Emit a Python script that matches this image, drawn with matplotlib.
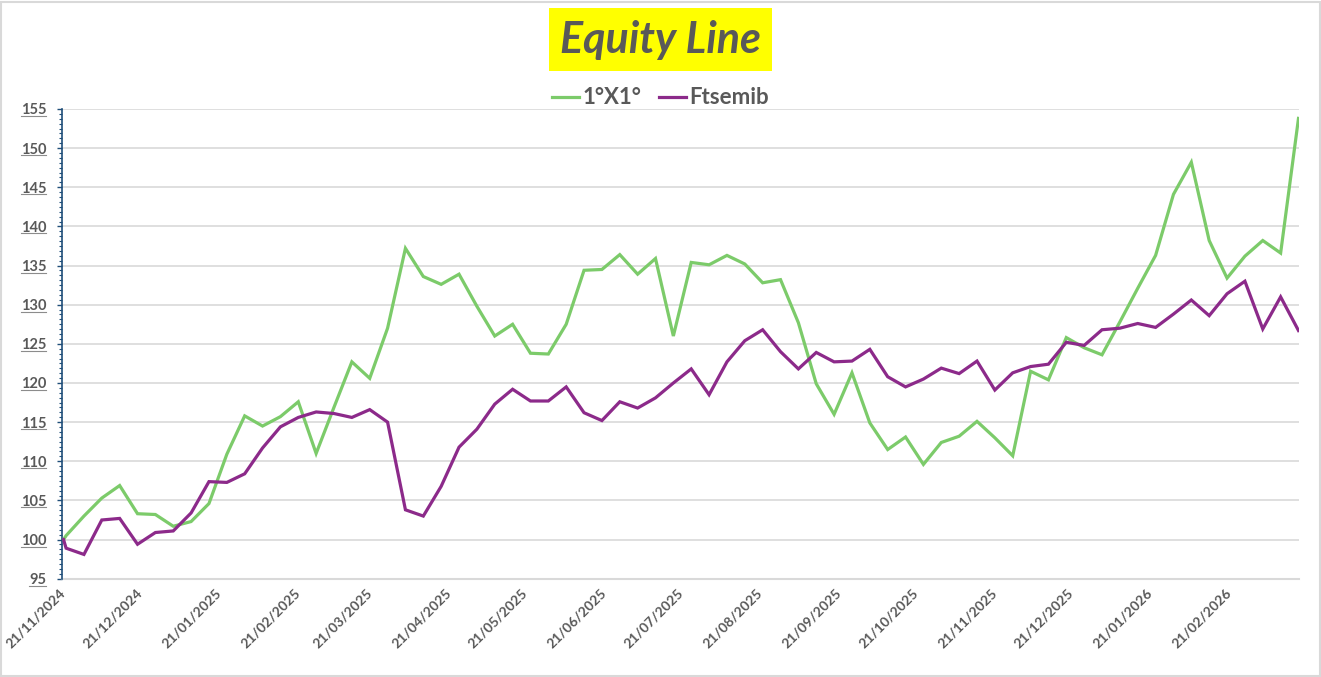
import matplotlib
matplotlib.use('Agg')
import matplotlib.pyplot as plt
import matplotlib.dates as mdates
from matplotlib.ticker import MultipleLocator, FixedLocator
from matplotlib.patches import Rectangle
from matplotlib.lines import Line2D
from matplotlib.transforms import IdentityTransform
import pandas as pd

# ---------------- data ----------------
start_date = "2024-11-21"          # equity line start (value 100)
first_friday = "2024-11-22"        # then weekly Friday closes
n_weeks = 70

series_names = ["1°X1°", "Ftsemib"]

equity_1x1 = [100.0,
    100.5, 103.0, 105.3, 106.9, 103.3, 103.2, 101.7, 102.3, 104.6, 110.9,
    115.8, 114.5, 115.7, 117.6, 111.0, 116.9, 122.7, 120.6, 127.0, 137.2,
    133.6, 132.6,
    133.9, 129.8, 126.0, 127.5, 123.8, 123.7, 127.5, 134.4, 134.5, 136.4,
    133.9, 135.9, 126.0, 135.4, 135.1, 136.3, 135.2, 132.8, 133.2, 127.7,
    119.9, 116.0, 121.3, 114.9, 111.5,
    113.1, 109.6, 112.4, 113.2, 115.1, 113.0, 110.7, 121.5, 120.4, 125.8,
    124.5, 123.6, 127.8, 132.1, 136.3, 144.1, 148.2, 138.2, 133.4, 136.2,
    138.2, 136.6, 153.8]

ftsemib = [100.0,
    98.9, 98.1, 102.5, 102.7, 99.4, 100.9, 101.1, 103.4, 107.4, 107.3,
    108.4, 111.7, 114.4, 115.6, 116.3, 116.1, 115.6, 116.6, 115.0, 103.8,
    103.0, 106.8,
    111.8, 114.1, 117.3, 119.2, 117.7, 117.7, 119.5, 116.2, 115.2, 117.6,
    116.8, 118.1, 120.0, 121.8, 118.5, 122.7, 125.4, 126.8, 124.0, 121.8,
    123.9, 122.7, 122.8, 124.3, 120.8,
    119.5, 120.5, 121.9, 121.2, 122.8, 119.1, 121.3, 122.1, 122.4, 125.2,
    124.8, 126.8, 127.0, 127.6, 127.1, 128.8, 130.6, 128.6, 131.4, 133.0,
    126.9, 131.0, 126.7]

x_tick_labels = ["21/11/2024", "21/12/2024", "21/01/2025", "21/02/2025",
                 "21/03/2025", "21/04/2025", "21/05/2025", "21/06/2025",
                 "21/07/2025", "21/08/2025", "21/09/2025", "21/10/2025",
                 "21/11/2025", "21/12/2025", "21/01/2026", "21/02/2026"]
y_ticks = [95, 100, 105, 110, 115, 120, 125, 130, 135, 140, 145, 150, 155]

dates = [pd.Timestamp(start_date)] + list(pd.date_range(first_friday, periods=n_weeks, freq="7D"))
xnum = mdates.date2num(dates)
tick_pos = mdates.date2num([pd.to_datetime(s, format="%d/%m/%Y") for s in x_tick_labels])

# ---------------- style ----------------
W, H = 1321, 677
GRAY = "#595959"
GREEN = "#7CCB6A"
PURPLE = "#8C2A8A"
AXBLUE = "#1F4E79"
plt.rcParams["font.family"] = ["Lato", "DejaVu Sans"]

fig = plt.figure(figsize=(W / 100, H / 100), dpi=100)
fig.patch.set_facecolor("white")

left, right, top, bottom = 62, 1299, 109, 578.7
ax = fig.add_axes([left / W, 1 - bottom / H, (right - left) / W, (bottom - top) / H])

ax.plot(xnum, equity_1x1, color=GREEN, lw=2.3, label=series_names[0], solid_joinstyle="miter", zorder=3)
ax.plot(xnum, ftsemib, color=PURPLE, lw=2.3, label=series_names[1], solid_joinstyle="miter", zorder=4)

ax.set_xlim(xnum[0] - 0.6, xnum[-1] + 0.2)
ax.set_ylim(95, 155)

ax.yaxis.set_major_locator(FixedLocator(y_ticks))
ax.yaxis.set_minor_locator(MultipleLocator(0.625))
ax.set_yticklabels([str(v) for v in y_ticks])
ax.xaxis.set_major_locator(FixedLocator(tick_pos))
ax.set_xticklabels(x_tick_labels)

ax.grid(axis="y", which="major", color="#D9D9D9", lw=1.2, zorder=0)
ax.set_axisbelow(True)
for s in ["top", "right", "bottom"]:
    ax.spines[s].set_visible(False)
ax.spines["left"].set_color(AXBLUE)
ax.spines["left"].set_linewidth(1.2)
ax.axhline(95, color="#D9D9D9", lw=1.5, zorder=1, clip_on=False)

ax.tick_params(axis="y", which="major", length=3.5, width=1, color=AXBLUE,
               labelcolor=GRAY, labelsize=10.5, pad=8)
ax.tick_params(axis="y", which="minor", length=2.5, width=0.8, color=AXBLUE)
ax.tick_params(axis="x", which="both", length=0, labelcolor=GRAY, labelsize=10, pad=9)
for lbl in ax.get_yticklabels():
    lbl.set_fontweight("bold")
for lbl in ax.get_xticklabels():
    lbl.set_fontweight("bold")
    lbl.set_rotation(45)
    lbl.set_ha("right")
    lbl.set_va("center")
    lbl.set_rotation_mode("anchor")

# legend
leg = fig.legend(loc="center", bbox_to_anchor=(0.5, 1 - 98 / H), ncol=2, frameon=False,
                 handlelength=1.2, handletextpad=0.15, columnspacing=0.8,
                 prop={"weight": "bold", "size": 16})
for t in leg.get_texts():
    t.set_color(GRAY)

# title box
fig.patches.append(Rectangle((549 / W, 1 - 71 / H), 223 / W, 63 / H,
                             transform=fig.transFigure, facecolor="#FFFF00",
                             edgecolor="none", zorder=1))
fig.text(660.5 / W, 1 - 40 / H, "Equity Line", ha="center", va="center",
         fontsize=31, fontweight="bold", fontstyle="italic", color=GRAY, zorder=2)

# chart border
fig.patches.append(Rectangle((1 / W, 1 / H), (W - 2.5) / W, (H - 2.5) / H,
                             transform=fig.transFigure, fill=False,
                             edgecolor="#D9D9D9", lw=1.5, zorder=0))

# underline y tick labels
fig.canvas.draw()
renderer = fig.canvas.get_renderer()
for lbl in ax.get_yticklabels():
    bb = lbl.get_window_extent(renderer)
    fig.add_artist(Line2D([bb.x0, bb.x1], [bb.y0 + 1.5, bb.y0 + 1.5],
                          transform=IdentityTransform(), color="#8C8C8C", lw=0.8))

fig.savefig("out.png", dpi=100, facecolor="white")
